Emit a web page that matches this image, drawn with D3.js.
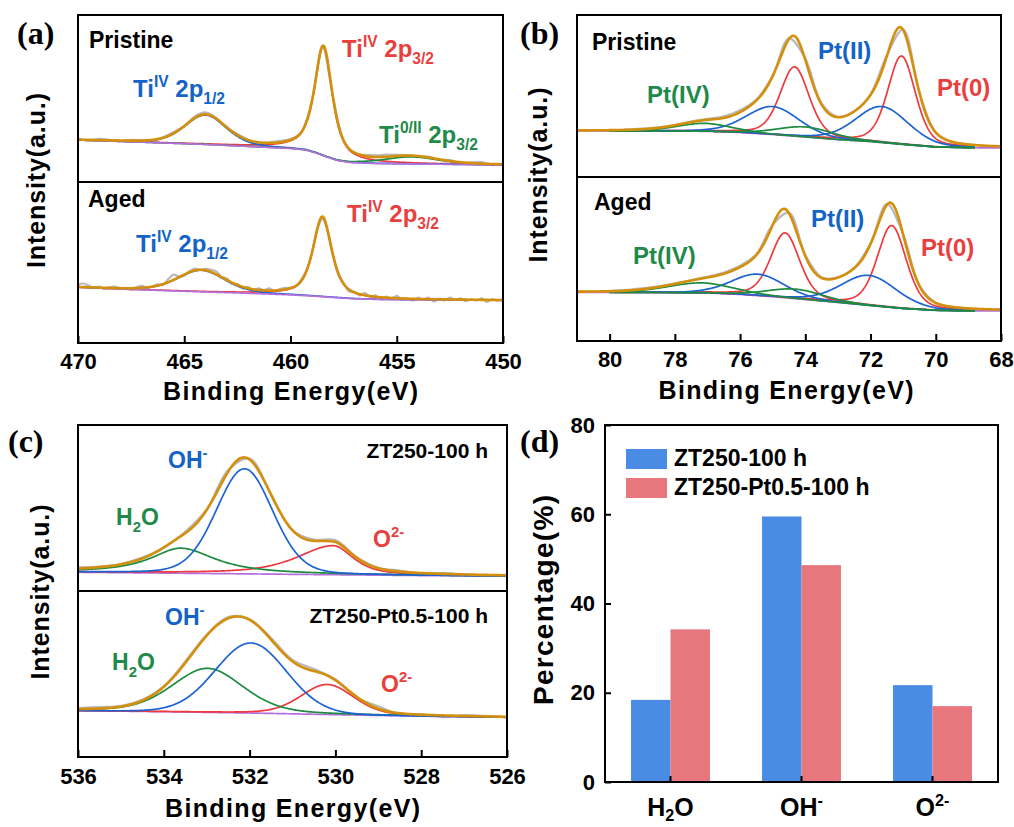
<!DOCTYPE html>
<html><head><meta charset="utf-8">
<script src="https://cdn.jsdelivr.net/npm/d3@7"></script>
<style>body{margin:0;background:#fff} svg{display:block} text{white-space:pre}</style>
</head><body>
<svg id="chart" width="1014" height="827"></svg>
<script>
// ================= DATA =================
// Peaks: [centre eV, height, FWHM (high-BE side), FWHM (low-BE side), Lorentzian fraction]
// Backgrounds: [eV, intensity]; residuals: raw - fit, evenly spaced over the axis range

// ---- (a) Ti 2p ----
const tiTicks = [470, 465, 460, 455, 450];
const tiPristineBg = [[470,25.1],[468,24.3],[466,23.4],[464,22.5],[462,21.3],[460,20.1],[459.3,19.2],[458.8,17.4],[458.3,15.0],[457.8,12.9],[457.2,11.7],[456,11.1],[454,10.8],[452,10.5],[450,10.2]];
const tiPristineBlue = [[464.0, 17.6, 2.3, 2.3, 0.3]];
const tiPristineRed = [[458.45, 65.5, 1.0, 1.0, 0.75]];
const tiPristineGreen = [[454.3, 4.2, 3.0, 3.0, 0.4]];
const tiPristineResid = [0.6,-0.3,0.8,0.2,-0.4,0.5,0.1,-0.6,0.3,0.7,-0.2,0.9,1.1,0.4,-0.3,0.6,0.2,-0.5,0.4,0.8,0.5,-0.2,0.3,0.1,0.4,0.2,-0.3,0.6,1.0,1.2,0.7,0.2,-0.4,0.5,-0.3,0.6,-0.5,0.4,0.9,-0.6,0.3];
const tiAgedBg = [[470,34.6],[468,33.5],[466,32.6],[464,31.7],[462,30.9],[460,29.9],[459,29.2],[458,28.3],[457,27.5],[456,27.1],[454,26.8],[452,26.7],[450,26.5]];
const tiAgedBlue = [[464.2, 13.4, 2.6, 2.6, 0.3]];
const tiAgedRed = [[458.5, 49.6, 1.05, 1.05, 0.7]];
const tiAgedGreen = [];
const tiAgedResid = [1.5,2.2,1.0,-0.3,0.6,-0.8,0.4,0.9,-0.5,0.3,-1.0,0.5,1.2,-0.4,0.2,0.8,-0.6,1.9,3.2,0.4,-0.7,0.6,1.1,-0.2,0.9,1.4,1.8,0.3,1.0,-0.6,0.5,-0.9,0.7,-0.4,1.1,0.2,1.3,-0.3,0.6,1.0,0.1,-0.5,0.8,0.4,-0.3,0.2,-1.5,-0.6,0.3,-0.8,0.5,-1.2,0.4,-0.9,1.3,-0.5,0.9,-1.3,0.6,-0.4,1.5,-0.7,0.3,-1.1,0.8,-0.3,1.0,-1.4,0.5,-0.6,1.2,-0.2,0.7,-1.0,0.4,-0.5,0.9,-1.2,0.6,-0.3,0.5];

// ---- (b) Pt 4f ----
const ptTicks = [80, 78, 76, 74, 72, 70, 68];
const ptPristineBg = [[81,28.4],[79,28.4],[77,28.2],[76,27.5],[75,26.2],[74,24.7],[73,23.1],[72,21.9],[71,20.1],[70,18.5],[69,18.1],[68,17.9]];
const ptPristineRed = [[71.05, 54.5, 1.0, 1.0, 0.35], [74.33, 42.8, 1.05, 1.05, 0.35]];
const ptPristineBlue = [[71.65, 22.2, 1.9, 1.9, 0.2], [75.0, 17.3, 1.9, 1.9, 0.2]];
const ptPristineGreen = [[74.0, 6.2, 2.0, 2.0, 0.2], [77.1, 4.9, 2.0, 2.0, 0.2]];
const ptPristineResid = [0,0.2,-0.1,0.1,0.3,0.2,0,0.4,0.6,1.0,1.2,0.6,0.3,0.4,0.8,0.5,0.3,0.2,0.4,0.6,0.3,0.1,0.2,0,0.1,-0.1,0];
const ptAgedBg = [[81,29.7],[79,29.6],[77,29.3],[76,28.4],[75,27.0],[74,25.3],[73,23.5],[72,21.6],[71,19.8],[70,18.7],[69,18.4],[68,18.3]];
const ptAgedRed = [[71.35, 50.0, 1.05, 1.05, 0.35], [74.62, 39.6, 1.05, 1.05, 0.35]];
const ptAgedBlue = [[72.05, 18.3, 2.0, 2.0, 0.2], [75.45, 13.1, 1.9, 1.9, 0.2]];
const ptAgedGreen = [[74.3, 5.8, 2.0, 2.0, 0.2], [77.2, 6.1, 2.4, 2.4, 0.2]];
const ptAgedResid = [0.1,0,0.2,0.3,0.5,0.4,0.2,0.3,0.5,0.8,0.9,0.5,0.2,0.3,0.6,0.4,0.2,0.3,0.5,0.4,0.2,0.1,0.2,0,0.1,0,0];

// ---- (c) O 1s ----
const oTicks = [536, 534, 532, 530, 528, 526];
const oZtBg = [[536,11.3],[534,10.8],[532,10.3],[530,9.8],[528,9.3],[526,8.9]];
const oZtBlue = [[532.12, 63.3, 1.55, 1.55, 0.15]];
const oZtGreen = [[533.6, 15.1, 1.7, 1.9, 0.9]];
const oZtRed = [[530.05, 17.5, 2.0, 1.1, 0.7]];
const oZtResid = [0.8,0.4,0.2,0.5,-0.2,0.9,0.3,1.0,0.6,0.2,-0.3,0.8,1.2,0.5,0.3,0.6,-0.2,0.4,0.1,-0.3,0.2];
const oPtBg = [[536,27.9],[534,27.3],[532,26.5],[530,25.5],[528,24.6],[526,23.9]];
const oPtBlue = [[531.97, 42.2, 1.95, 1.95, 0.05]];
const oPtGreen = [[532.98, 26.5, 1.95, 1.95, 0.3]];
const oPtRed = [[530.19, 18.1, 1.45, 1.45, 0.25]];
const oPtResid = [0.6,0.9,0.3,0.5,0.2,1.0,0.5,0.8,0.4,1.0,0.9,1.2,0.6,-0.5,1.5,-0.8,0.4,-1.0,0.3,0.2,-0.4];

// ---- (d) percentages ----
const oCategories = ["H2O", "OH-", "O2-"];
const barSeries = ["ZT250-100 h", "ZT250-Pt0.5-100 h"];
const ztPercent = [18.4, 59.5, 21.7];
const ztPtPercent = [34.2, 48.6, 17.0];
const pctTicks = [0, 20, 40, 60, 80];

// ================= STYLE =================
const FONT = "'Liberation Sans', Arial, sans-serif";
const SERIF = "'Liberation Serif', 'Times New Roman', serif";
const COL = {orange:'#d4900c', blue:'#1d63d2', red:'#ee3a3e', green:'#1d8b40', purple:'#b36fdc', gray:'#b9b9b9'};
const TXT = {blue:'#1463c6', red:'#e8403f', green:'#1f8a4a', black:'#000'};
const BAR = ['#4a8ce3', '#e8777d'];

const svg = d3.select('#chart');

function pv(e, p) {
  const [c, h, wh, wl, m] = p;
  const w = e >= c ? wh : wl;
  const d = (e - c) / w;
  return h * (m / (1 + 4 * d * d) + (1 - m) * Math.exp(-4 * Math.LN2 * d * d));
}

function rich(g, x, y, parts, fs, color, anchor, subShift) {
  const t = g.append('text').attr('x', x).attr('y', y)
    .attr('font-family', FONT).attr('font-weight', 'bold').attr('font-size', fs)
    .attr('fill', color).attr('text-anchor', anchor || 'start');
  let cur = 0;
  parts.forEach(p => {
    const kind = p[1];
    const target = kind === 'sup' ? -0.42 * fs : kind === 'sub' ? (subShift || 0.29) * fs : 0;
    const ts = t.append('tspan').text(p[0]);
    if (target !== cur) ts.attr('dy', target - cur);
    if (kind) ts.attr('font-size', fs * 0.65);
    cur = target;
  });
  return t;
}

function plainText(g, x, y, s, fs, opts) {
  opts = opts || {};
  const t = g.append('text').attr('x', x).attr('y', y).text(s)
    .attr('font-family', opts.family || FONT).attr('font-weight', 'bold')
    .attr('font-size', fs).attr('fill', opts.color || '#000')
    .attr('text-anchor', opts.anchor || 'start');
  if (opts.len) t.attr('textLength', opts.len).attr('lengthAdjust', 'spacing');
  if (opts.rotate) t.attr('transform', `rotate(-90,${x},${y})`);
  return t;
}

let clipId = 0;
function drawXPS(cfg) {
  const x = d3.scaleLinear().domain(cfg.domain).range([cfg.x0, cfg.x1]);
  const lo = Math.min(...cfg.domain), hi = Math.max(...cfg.domain);
  cfg.subs.forEach(sp => {
    const y = d3.scaleLinear().domain([0, 100]).range([sp.bottom, sp.top]);
    const id = 'clip' + (clipId++);
    svg.append('clipPath').attr('id', id).append('rect')
      .attr('x', cfg.x0).attr('y', sp.top).attr('width', cfg.x1 - cfg.x0).attr('height', sp.bottom - sp.top);
    const g = svg.append('g').attr('clip-path', `url(#${id})`);
    const bg = d3.scaleLinear().domain(sp.bg.map(d => d[0])).range(sp.bg.map(d => d[1])).clamp(true);
    const all = [...sp.blue, ...sp.red, ...sp.green];
    const env = e => bg(e) + d3.sum(all, p => pv(e, p));
    const line = d3.line().x(d => x(d[0])).y(d => y(d[1]));
    const grid = d3.range(lo, hi + 1e-9, 0.02);
    const cr = cfg.compRange || [lo, hi];
    const cgrid = d3.range(cr[0], cr[1] + 1e-9, 0.02);
    // raw data
    const n = sp.resid.length;
    const raw = sp.resid.map((r, i) => { const e = hi - i * (hi - lo) / (n - 1); return [e, env(e) + r]; });
    g.append('path').attr('d', line.curve(d3.curveCatmullRom)(raw))
      .attr('fill', 'none').attr('stroke', COL.gray).attr('stroke-width', 2.2);
    line.curve(d3.curveLinear);
    const drawBg = () => g.append('path').attr('d', line(grid.map(e => [e, bg(e)])))
      .attr('fill', 'none').attr('stroke', COL.purple).attr('stroke-width', 1.7);
    const drawComp = (key) => sp[key].forEach(p => {
      g.append('path').attr('d', line(cgrid.map(e => [e, bg(e) + pv(e, p)])))
        .attr('fill', 'none').attr('stroke', COL[key]).attr('stroke-width', cfg.compWidth || 1.7);
    });
    cfg.order.forEach(k => k === 'bg' ? drawBg() : drawComp(k));
    g.append('path').attr('d', line(grid.map(e => [e, env(e)])))
      .attr('fill', 'none').attr('stroke', COL.orange).attr('stroke-width', 2.6);
    // labels
    sp.labels.forEach(L => {
      if (L.parts) rich(svg, L.x, L.y, L.parts, L.fs, TXT[L.color], L.anchor);
      else plainText(svg, L.x, L.y, L.text, L.fs, {color: TXT[L.color], anchor: L.anchor});
    });
  });
  // frame
  const top = cfg.subs[0].top, bottom = cfg.subs[cfg.subs.length - 1].bottom;
  svg.append('rect').attr('x', cfg.x0).attr('y', top).attr('width', cfg.x1 - cfg.x0).attr('height', bottom - top)
    .attr('fill', 'none').attr('stroke', '#000').attr('stroke-width', 2);
  cfg.subs.slice(1).forEach(sp => svg.append('line').attr('x1', cfg.x0).attr('x2', cfg.x1)
    .attr('y1', sp.top).attr('y2', sp.top).attr('stroke', '#000').attr('stroke-width', 2));
  // axis
  const ax = svg.append('g').attr('transform', `translate(0,${bottom})`)
    .call(d3.axisBottom(x).tickValues(cfg.ticks).tickSize(-7).tickPadding(cfg.tickPad || 10.5).tickFormat(d3.format('d')));
  ax.select('.domain').remove();
  ax.selectAll('.tick line').attr('stroke', '#000').attr('stroke-width', 2);
  ax.selectAll('.tick text').attr('font-family', FONT).attr('font-weight', 'bold').attr('font-size', 22).attr('fill', '#000');
  plainText(svg, cfg.xTitle[0], cfg.xTitle[1], 'Binding Energy(eV)', 25, {anchor: 'middle', len: 255});
  plainText(svg, cfg.yTitle[0], cfg.yTitle[1], 'Intensity(a.u.)', 25, {anchor: 'middle', len: 175, rotate: true});
  plainText(svg, cfg.letter[0], cfg.letter[1], cfg.letter[2], 32, {family: SERIF});
}

const tiIV12 = [['Ti'], ['IV', 'sup'], [' 2p'], ['1/2', 'sub']];
const tiIV32 = [['Ti'], ['IV', 'sup'], [' 2p'], ['3/2', 'sub']];
const ti0II32 = [['Ti'], ['0/II', 'sup'], [' 2p'], ['3/2', 'sub']];
const OHm = [['OH'], ['-', 'sup']];
const H2O = [['H'], ['2', 'sub'], ['O']];
const O2m = [['O'], ['2-', 'sup']];

// (a)
drawXPS({
  domain: [470, 450], x0: 78, x1: 503, ticks: tiTicks,
  order: ['red', 'blue', 'green', 'bg'],
  xTitle: [290.5, 400], yTitle: [45, 180.5], letter: [17, 44, '(a)'],
  subs: [
    {top: 15, bottom: 182, bg: tiPristineBg, blue: tiPristineBlue, red: tiPristineRed, green: tiPristineGreen, resid: tiPristineResid,
     labels: [
       {x: 89, y: 48, text: 'Pristine', fs: 23, color: 'black'},
       {x: 133, y: 97, parts: tiIV12, fs: 24, color: 'blue'},
       {x: 342, y: 57, parts: tiIV32, fs: 24, color: 'red'},
       {x: 379, y: 143, parts: ti0II32, fs: 24, color: 'green'}]},
    {top: 182, bottom: 343, bg: tiAgedBg, blue: tiAgedBlue, red: tiAgedRed, green: tiAgedGreen, resid: tiAgedResid,
     labels: [
       {x: 88, y: 207, text: 'Aged', fs: 23, color: 'black'},
       {x: 136, y: 252, parts: tiIV12, fs: 24, color: 'blue'},
       {x: 347, y: 222, parts: tiIV32, fs: 24, color: 'red'}]}
  ]
});

// (b)
drawXPS({
  domain: [81, 68], x0: 577, x1: 1001, ticks: ptTicks, compRange: [68.8, 80.0],
  order: ['bg', 'red', 'blue', 'green'],
  xTitle: [786, 399], yTitle: [547, 175], letter: [520, 44, '(b)'],
  subs: [
    {top: 15, bottom: 177, bg: ptPristineBg, blue: ptPristineBlue, red: ptPristineRed, green: ptPristineGreen, resid: ptPristineResid,
     labels: [
       {x: 592, y: 50, text: 'Pristine', fs: 23, color: 'black'},
       {x: 818, y: 59, text: 'Pt(II)', fs: 24, color: 'blue'},
       {x: 937, y: 96, text: 'Pt(0)', fs: 24, color: 'red'},
       {x: 647, y: 103, text: 'Pt(IV)', fs: 24, color: 'green'}]},
    {top: 177, bottom: 341, bg: ptAgedBg, blue: ptAgedBlue, red: ptAgedRed, green: ptAgedGreen, resid: ptAgedResid,
     labels: [
       {x: 594, y: 210, text: 'Aged', fs: 23, color: 'black'},
       {x: 811, y: 227, text: 'Pt(II)', fs: 24, color: 'blue'},
       {x: 921, y: 256, text: 'Pt(0)', fs: 24, color: 'red'},
       {x: 633, y: 264, text: 'Pt(IV)', fs: 24, color: 'green'}]}
  ]
});

// (c)
drawXPS({
  domain: [536, 526], x0: 78, x1: 507, ticks: oTicks, tickPad: 11.5,
  order: ['bg', 'red', 'green', 'blue'],
  xTitle: [292.5, 817], yTitle: [49, 592], letter: [8, 452, '(c)'],
  subs: [
    {top: 425, bottom: 591, bg: oZtBg, blue: oZtBlue, red: oZtRed, green: oZtGreen, resid: oZtResid,
     labels: [
       {x: 488, y: 458, text: 'ZT250-100 h', fs: 21, color: 'black', anchor: 'end'},
       {x: 168, y: 468, parts: OHm, fs: 23, color: 'blue'},
       {x: 116, y: 525, parts: H2O, fs: 23, color: 'green'},
       {x: 373, y: 547, parts: O2m, fs: 23, color: 'red'}]},
    {top: 591, bottom: 757, bg: oPtBg, blue: oPtBlue, red: oPtRed, green: oPtGreen, resid: oPtResid,
     labels: [
       {x: 488, y: 623, text: 'ZT250-Pt0.5-100 h', fs: 21, color: 'black', anchor: 'end'},
       {x: 165, y: 625, parts: OHm, fs: 23, color: 'blue'},
       {x: 112, y: 670, parts: H2O, fs: 23, color: 'green'},
       {x: 381, y: 692, parts: O2m, fs: 23, color: 'red'}]}
  ]
});

// (d) bar chart
(function () {
  const x0 = 605, x1 = 998, top = 425, bottom = 782;
  const x = d3.scaleBand().domain(oCategories).range([x0, x1]).paddingInner(0).paddingOuter(0);
  const xs = d3.scaleBand().domain(barSeries).range([0, x.bandwidth()]).paddingInner(0).paddingOuter(0.66);
  const y = d3.scaleLinear().domain([0, 80]).range([bottom, top]);
  const vals = [ztPercent, ztPtPercent];
  const g = svg.append('g');
  barSeries.forEach((s, si) => {
    g.selectAll(null).data(oCategories).join('rect')
      .attr('x', c => x(c) + xs(s)).attr('width', xs.bandwidth())
      .attr('y', (c, i) => y(vals[si][i])).attr('height', (c, i) => bottom - y(vals[si][i]))
      .attr('fill', BAR[si]);
  });
  svg.append('rect').attr('x', x0).attr('y', top).attr('width', x1 - x0).attr('height', bottom - top)
    .attr('fill', 'none').attr('stroke', '#000').attr('stroke-width', 2);
  const ay = svg.append('g').attr('transform', `translate(${x0},0)`)
    .call(d3.axisLeft(y).tickValues(pctTicks).tickSize(-6).tickPadding(10));
  ay.select('.domain').remove();
  ay.selectAll('.tick line').attr('stroke', '#000').attr('stroke-width', 2);
  ay.selectAll('.tick text').attr('font-family', FONT).attr('font-weight', 'bold').attr('font-size', 22).attr('fill', '#000');
  const axx = svg.append('g').attr('transform', `translate(0,${bottom})`)
    .call(d3.axisBottom(x).tickSize(-6).tickFormat(''));
  axx.select('.domain').remove();
  axx.selectAll('.tick line').attr('stroke', '#000').attr('stroke-width', 2);
  const catParts = {"H2O": H2O, "OH-": OHm, "O2-": O2m};
  oCategories.forEach(c => rich(svg, x(c) + x.bandwidth() / 2, 816, catParts[c], 25, '#000', 'middle', 0.2));
  // legend
  barSeries.forEach((s, i) => {
    svg.append('rect').attr('x', 626).attr('y', 449 + i * 29).attr('width', 41).attr('height', 20).attr('fill', BAR[i]);
    plainText(svg, 674, 466 + i * 29, s, 23);
  });
  plainText(svg, 553, 600, 'Percentage(%)', 28, {anchor: 'middle', len: 210, rotate: true});
  plainText(svg, 520, 452, '(d)', 32, {family: SERIF});
})();
</script>
</body></html>
